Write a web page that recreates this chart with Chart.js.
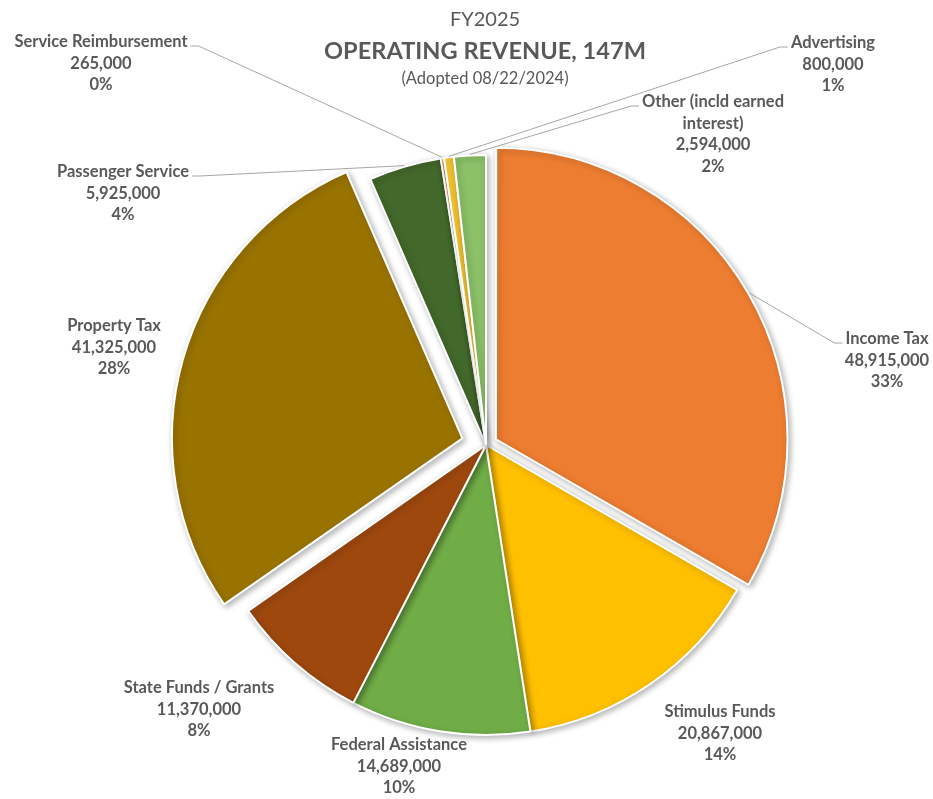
<!DOCTYPE html>
<html>
<head>
<meta charset="utf-8">
<script src="https://cdn.jsdelivr.net/npm/chart.js@4"></script>
<style>
  body { margin: 0; background: #fff; }
  #wrap { width: 933px; height: 799px; }
</style>
</head>
<body>
<div id="wrap"><canvas id="revenueChart"></canvas></div>
<script>
const categories = [
  'Income Tax', 'Stimulus Funds', 'Federal Assistance', 'State Funds / Grants',
  'Property Tax', 'Passenger Service', 'Service Reimbursement', 'Advertising',
  ['Other (incld earned', 'interest)']
];
const revenue = [48915000, 20867000, 14689000, 11370000, 41325000, 5925000, 265000, 800000, 2594000];
const sliceColors = ['#ED7D31', '#FFC000', '#70AD47', '#9E480E', '#997300', '#43682B', '#F1975A', '#FFCD33', '#8CC168'];
// chart.js v4 moves an arc by offset/4 (a bit more for wide arcs), so these give ~13px and ~25px
const sliceOffsets = [46, 0, 0, 0, 98, 0, 0, 0, 0];

// where each data label sits (centre x, first line y), and whether it gets a leader line
const labelSpots = [
  { x: 887, y: 339, leader: true },
  { x: 720, y: 712 },
  { x: 399, y: 745 },
  { x: 199, y: 688 },
  { x: 114, y: 326 },
  { x: 123, y: 172, leader: true },
  { x: 101, y: 42, leader: true },
  { x: 833, y: 43, leader: true },
  { x: 713, y: 102, leader: true }
];

const TEXT = '#595959';
const LINE_H = 21.5;

const shadowPlugin = {
  id: 'sliceShadow',
  beforeDatasetsDraw(chart) {
    const ctx = chart.ctx;
    ctx.save();
    ctx.shadowColor = 'rgba(0,0,0,0.3)';
    ctx.shadowBlur = 6;
    ctx.shadowOffsetX = 2;
    ctx.shadowOffsetY = 2;
  },
  afterDatasetsDraw(chart) {
    chart.ctx.restore();
  }
};

// same shift the arc element applies when it draws
const arcShift = (arc) => {
  const off = (arc.options.offset || 0) / 4;
  const fix = 1 - Math.sin(Math.min(Math.PI, arc.circumference || 0));
  return off + off * fix;
};

const labelPlugin = {
  id: 'sliceLabels',
  afterDatasetsDraw(chart) {
    const ctx = chart.ctx;
    const meta = chart.getDatasetMeta(0);
    const total = revenue.reduce((a, b) => a + b, 0);
    ctx.save();
    ctx.font = 'bold 16.5px Lato';
    ctx.textAlign = 'center';
    ctx.textBaseline = 'middle';
    meta.data.forEach((arc, i) => {
      const spot = labelSpots[i];
      const name = [].concat(categories[i]);
      const lines = [...name, revenue[i].toLocaleString('en-US'), Math.round(revenue[i] / total * 100) + '%'];
      ctx.fillStyle = TEXT;
      lines.forEach((t, k) => ctx.fillText(t, spot.x, spot.y + k * LINE_H));

      if (spot.leader) {
        const p = arc.getProps(['x', 'y', 'startAngle', 'endAngle', 'outerRadius']);
        const mid = (p.startAngle + p.endAngle) / 2;
        const r = p.outerRadius + arcShift(arc) + 1;
        const ex = p.x + Math.cos(mid) * r;
        const ey = p.y + Math.sin(mid) * r;
        const half = ctx.measureText(name[0]).width / 2;
        const ly = spot.y + 4;
        let x0, x1;
        if (ex > spot.x) { x0 = spot.x + half + 3; x1 = x0 + 8; }
        else { x0 = spot.x - half - 3; x1 = x0 - 8; }
        ctx.strokeStyle = '#A6A6A6';
        ctx.lineWidth = 1;
        ctx.beginPath();
        ctx.moveTo(x0, ly);
        ctx.lineTo(x1, ly);
        ctx.lineTo(ex, ey);
        ctx.stroke();
      }
    });
    ctx.restore();
  }
};

const titlePlugin = {
  id: 'stackedTitle',
  afterDraw(chart) {
    const ctx = chart.ctx;
    ctx.save();
    ctx.fillStyle = TEXT;
    ctx.textAlign = 'center';
    ctx.textBaseline = 'middle';
    ctx.font = '20px Lato';
    ctx.fillText('FY2025', 485, 20);
    ctx.font = 'bold 23.6px Lato';
    ctx.fillText('OPERATING REVENUE, 147M', 485, 51);
    ctx.font = '16.5px Lato';
    ctx.fillText('(Adopted 08/22/2024)', 485, 79);
    ctx.restore();
  }
};

new Chart(document.getElementById('revenueChart'), {
  type: 'pie',
  data: {
    labels: categories,
    datasets: [{
      data: revenue,
      backgroundColor: sliceColors,
      offset: sliceOffsets,
      borderColor: '#ffffff',
      borderWidth: 2
    }]
  },
  options: {
    responsive: true,
    maintainAspectRatio: false,
    animation: false,
    radius: 290,
    layout: { padding: { left: 39, right: 0, top: 91, bottom: 0 } },
    plugins: {
      legend: { display: false },
      tooltip: { enabled: false }
    }
  },
  plugins: [shadowPlugin, labelPlugin, titlePlugin]
});
</script>
</body>
</html>
